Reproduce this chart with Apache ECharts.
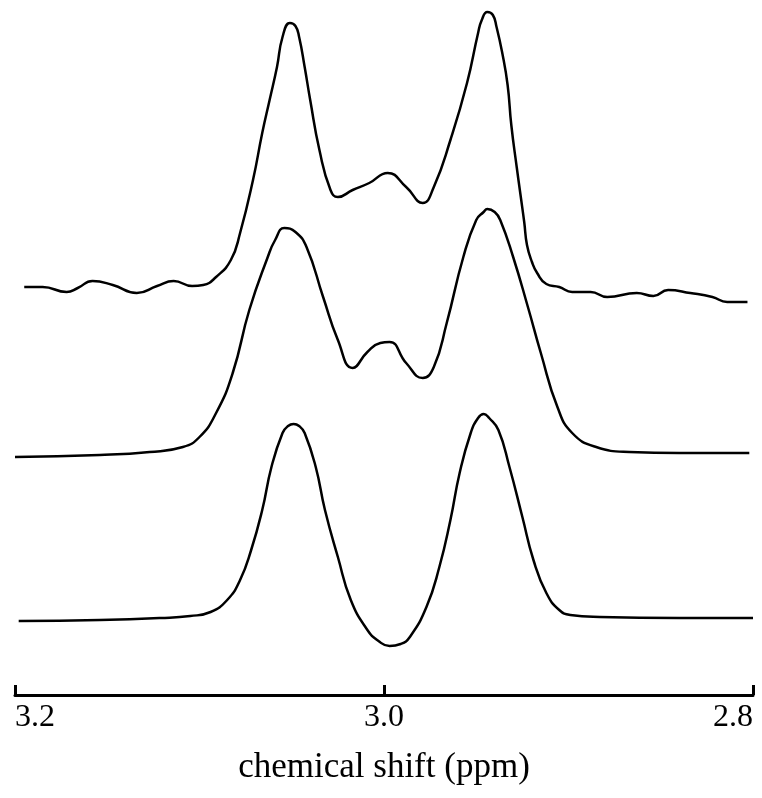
<!DOCTYPE html>
<html>
<head>
<meta charset="utf-8">
<script src="https://cdn.jsdelivr.net/npm/echarts@6/dist/echarts.min.js"></script>
<style>
  html, body { margin: 0; padding: 0; background: #fff; }
  #main { width: 762px; height: 798px; }
</style>
</head>
<body>
<div id="main"></div>
<script>
// chemical shift axis (ppm)
var shiftMin = 2.8, shiftMax = 3.2, shiftStep = 0.2;
var axisTitle = 'chemical shift (ppm)';

// top trace (measured, noisy baseline)
var topPpm = [3.195, 3.185, 3.172, 3.166, 3.158, 3.147, 3.134, 3.123, 3.114, 3.104, 3.098, 3.091,
  3.083, 3.078, 3.071, 3.066, 3.062, 3.058, 3.055, 3.051, 3.048, 3.046, 3.043, 3.040, 3.035,
  3.029, 3.025, 3.017, 3.008, 2.998, 2.988, 2.979, 2.973, 2.964, 2.955, 2.949, 2.947, 2.944, 2.941,
  2.939, 2.936, 2.933, 2.931, 2.928, 2.926, 2.924, 2.9225, 2.9198, 2.917, 2.912, 2.905, 2.898, 2.888,
  2.879, 2.863, 2.854, 2.846, 2.834, 2.822, 2.814, 2.803];
var topInt = [408, 408, 403, 407, 414, 410, 402, 409, 414, 409, 410, 418,
  435, 462, 515, 562, 595, 628, 658, 672, 669, 658, 628, 595, 545,
  505, 498, 505, 512, 522, 508, 492, 508, 555, 612, 662, 675, 683, 680,
  668, 643, 610, 570, 527, 500, 473, 450, 433, 422, 411, 408, 403, 403,
  398, 402, 399, 405, 402, 398, 393, 393];

// middle trace (fitted)
var midPpm = [3.200, 3.154, 3.127, 3.109, 3.100, 3.091, 3.082, 3.073, 3.063, 3.059, 3.054, 3.048,
  3.042, 3.033, 3.025, 3.017, 3.009, 3.002, 2.997, 2.988, 2.979, 2.973, 2.966, 2.957, 2.950, 2.946,
  2.944, 2.940, 2.937, 2.930, 2.922, 2.915, 2.906, 2.898, 2.885, 2.867, 2.840, 2.802];
var midInt = [238, 240, 243, 248, 258, 282, 322, 385, 438, 455, 467, 463,
  448, 398, 355, 327, 343, 352, 353, 332, 317, 328, 372, 438, 475, 483,
  486, 483, 475, 438, 388, 342, 288, 262, 248, 243, 242, 242];

// bottom trace (simulated doublet)
var botPpm = [3.198, 3.154, 3.121, 3.105, 3.094, 3.085, 3.078, 3.072, 3.066, 3.061, 3.055, 3.052,
  3.049, 3.046, 3.043, 3.037, 3.032, 3.025, 3.018, 3.009, 3.003, 2.997, 2.991, 2.986, 2.977, 2.970,
  2.964, 2.959, 2.953, 2.949, 2.946, 2.943, 2.938, 2.932, 2.925, 2.919, 2.912, 2.905, 2.899, 2.883,
  2.840, 2.800];
var botInt = [74, 75, 77, 79, 83, 95, 115, 145, 185, 228, 262, 269,
  271, 269, 262, 228, 185, 138, 95, 65, 54, 49, 51, 58, 88, 128,
  175, 222, 262, 277, 281, 277, 265, 228, 178, 135, 102, 85, 80, 78,
  77, 77];

function pairs(xs, ys) {
  return xs.map(function (x, i) { return [x, ys[i]]; });
}

var chart = echarts.init(document.getElementById('main'));
var lineStyle = { color: '#000', width: 2.5 };
var traces = [[topPpm, topInt], [midPpm, midInt], [botPpm, botInt]];

chart.setOption({
  animation: false,
  backgroundColor: '#fff',
  grid: { left: 15, right: 9, top: 0, bottom: 103, containLabel: false, outerBoundsMode: 'none' },
  xAxis: {
    type: 'value',
    min: shiftMin,
    max: shiftMax,
    interval: shiftStep,
    inverse: true,
    name: axisTitle,
    nameLocation: 'middle',
    nameGap: 55,
    nameTextStyle: { color: '#000', fontFamily: 'Liberation Serif', fontSize: 35 },
    axisLine: { lineStyle: { color: '#000', width: 3 } },
    axisTick: { inside: true, length: 10, lineStyle: { color: '#000', width: 3 } },
    axisLabel: {
      color: '#000', fontFamily: 'Liberation Serif', fontSize: 32, margin: 7,
      alignMinLabel: 'right', alignMaxLabel: 'left',
      formatter: function (v) { return v.toFixed(1); }
    },
    splitLine: { show: false }
  },
  yAxis: {
    type: 'value', min: 0, max: 695, show: false
  },
  series: traces.map(function (t) {
    return {
      type: 'line',
      data: pairs(t[0], t[1]),
      showSymbol: false,
      smooth: 0.5,
      lineStyle: lineStyle,
      silent: true
    };
  })
});
</script>
</body>
</html>
